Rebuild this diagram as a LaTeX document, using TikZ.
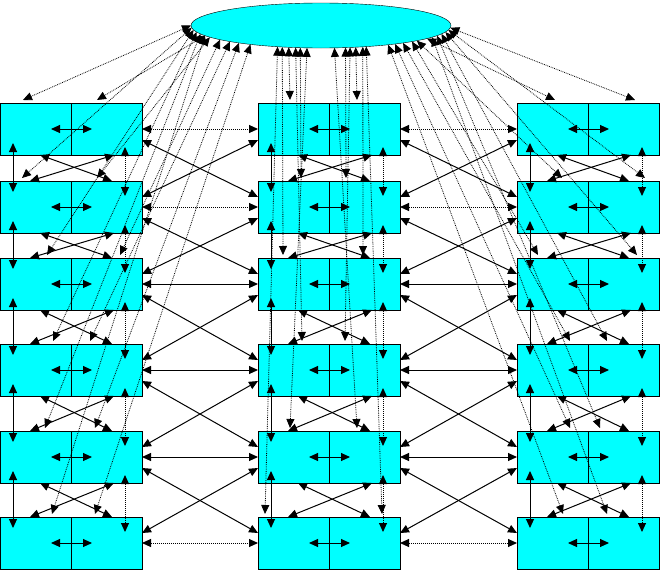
\documentclass[tikz,border=0pt]{standalone}
\usetikzlibrary{shapes.geometric,arrows.meta}
\definecolor{aqua}{RGB}{0,255,255}
\begin{document}
\begin{tikzpicture}[
    x=1pt, y=-1pt,
    box/.style={rectangle, draw, fill=aqua, minimum width=142pt, minimum height=52pt, anchor=north west, inner sep=0pt, outer sep=0pt},
    hub/.style={ellipse, draw, fill=aqua, minimum width=260pt, minimum height=45pt, inner sep=0pt, outer sep=0pt},
    tips/.style={{Triangle[length=9pt,width=8pt]}-{Triangle[length=9pt,width=8pt]}},
    link/.style={tips, line width=1pt},
    feed/.style={tips, densely dotted, line width=0.8pt}
]
    \useasboundingbox (0,0) rectangle (660,570);

    \node[hub] (hub) at (321,25.5) {};
    \foreach \r/\y in {1/103,2/181,3/258,4/344,5/431,6/517} {
        \node[box] (l\r) at (0,\y) {};
        \node[box] (m\r) at (258,\y) {};
        \node[box] (r\r) at (517,\y) {};
    }

    % halves and inner arrows
    \foreach \c in {l,m,r} {
        \foreach \r in {1,...,6} {
            \draw[line width=1pt] (\c\r.north) -- (\c\r.south);
            \draw[link] ([xshift=-20pt]\c\r.center) -- ([xshift=21pt]\c\r.center);
        }
    }

    % links inside a column
    \foreach \c in {l,m,r} {
        \foreach \r/\s in {1/2,2/3,3/4,4/5,5/6} {
            \draw[link] ([xshift=13pt,yshift=12pt]\c\r.south west) -- ([xshift=13pt,yshift=-11pt]\c\s.north west);
            \draw[link, densely dotted] ([xshift=-17pt,yshift=8pt]\c\r.south east) -- ([xshift=-17pt,yshift=-15pt]\c\s.north east);
            \draw[link] ([xshift=40pt]\c\r.south west) -- ([xshift=112pt]\c\s.north west);
            \draw[link] ([xshift=114pt]\c\r.south west) -- ([xshift=30pt]\c\s.north west);
        }
    }

    % links between columns
    \foreach \a/\b in {l/m, m/r} {
        \foreach \r in {1,2,6} {\draw[link, densely dotted] (\a\r.east) -- (\b\r.west);}
        \foreach \r in {3,4,5} {\draw[link] (\a\r.east) -- (\b\r.west);}
        \foreach \r/\s in {1/2,2/3,3/4,4/5,5/6} {
            \draw[link] ([yshift=15pt]\a\r.south east) -- ([yshift=-16pt]\b\s.north west);
            \draw[link] ([yshift=15pt]\b\r.south west) -- ([yshift=-16pt]\a\s.north east);
        }
    }

    % feeds from the ellipse
    \foreach \c/\r/\t/\o in {
        l/1/178/23, l/1/150/97, l/2/170/22, l/2/145/97, l/3/165/47, l/3/138/120,
        l/4/160/53, l/4/132/90, l/5/155/45, l/5/127/95, l/6/152/52, l/6/122/95,
        m/1/104/32, m/1/74/99, m/2/99/43, m/2/79/88, m/3/107/25, m/3/71/105,
        m/4/101/44, m/4/77/87, m/5/96/32, m/5/84/99, m/6/109/7, m/6/69/124,
        r/1/2/118, r/1/35/38, r/2/10/128, r/2/40/45, r/3/15/120, r/3/45/21,
        r/4/20/90, r/4/50/53, r/5/25/83, r/5/55/53, r/6/28/90, r/6/58/46} {
        \pgfmathsetmacro\ang{atan2(-22.5*sin(\t),130*cos(\t))+360}
        \draw[feed] (hub.\ang) -- ([xshift=\o pt, yshift=3pt]\c\r.north west);
    }
\end{tikzpicture}
\end{document}
